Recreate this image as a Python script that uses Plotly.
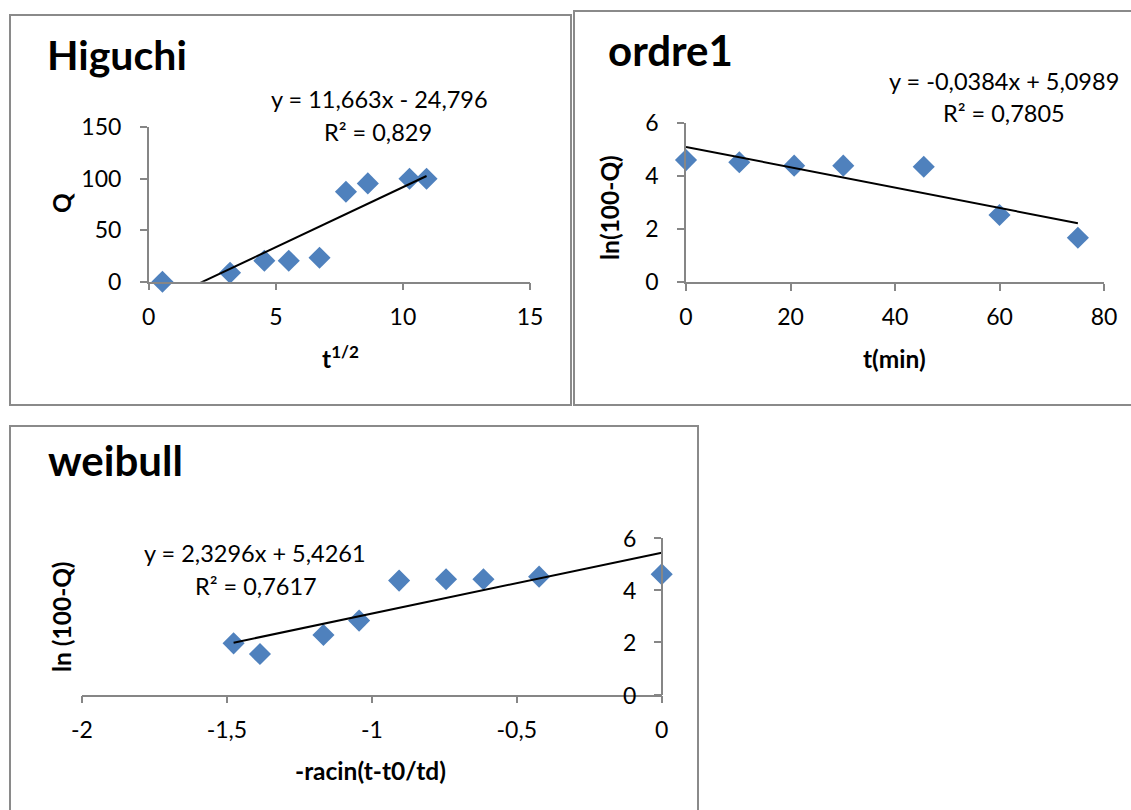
import plotly.graph_objects as go

W, H = 1131, 810
FONT = "Lato"
AXIS_GREY = "#868686"
FRAME_GREY = "#8a8a8a"
BLUE = "#4F81BD"
TICK_SIZE = 23

# ---- Higuchi: Q versus square root of time ----
higuchi_sqrt_t = [0.54, 3.20, 4.55, 5.51, 6.72, 7.76, 8.62, 10.26, 10.93]
higuchi_q = [0, 8.7, 20.4, 20.4, 23.3, 87.4, 95.5, 100, 100]
higuchi_slope, higuchi_intercept, higuchi_r2 = 11.663, -24.796, 0.829
higuchi_xticks = [0, 5, 10, 15]
higuchi_yticks = [0, 50, 100, 150]

# ---- first order: ln(100-Q) versus time ----
ordre1_t = [0, 10.2, 20.7, 30.1, 45.5, 60.0, 75.0]
ordre1_ln = [4.60, 4.52, 4.39, 4.39, 4.35, 2.53, 1.67]
ordre1_slope, ordre1_intercept, ordre1_r2 = -0.0384, 5.0989, 0.7805
ordre1_xticks = [0, 20, 40, 60, 80]
ordre1_yticks = [0, 2, 4, 6]

# ---- Weibull ----
weibull_x = [-1.477, -1.386, -1.167, -1.044, -0.906, -0.744, -0.615, -0.423, 0.0]
weibull_ln = [1.96, 1.55, 2.28, 2.83, 4.36, 4.41, 4.41, 4.51, 4.60]
weibull_slope, weibull_intercept, weibull_r2 = 2.3296, 5.4261, 0.7617
weibull_xticks = [-2, -1.5, -1, -0.5, 0]
weibull_yticks = [0, 2, 4, 6]


def num(v):
    """Number written with a decimal comma and a plain hyphen."""
    s = f"{v:g}" if float(v) != int(v) else str(int(v))
    return s.replace(".", ",")


def equation(slope, intercept):
    sign = "+" if intercept >= 0 else "-"
    return f"y = {num(slope)}x {sign} {num(abs(intercept))}"


def px(x, y):
    """Pixel position -> paper coordinates."""
    return x / W, 1 - y / H


def xdom(x0, x1):
    return [x0 / W, x1 / W]


def ydom(ybottom, ytop):
    return [1 - ybottom / H, 1 - ytop / H]


def axis(ticks, rng, standoff, **kw):
    base = dict(
        range=rng, tickmode="array", tickvals=ticks, ticktext=[num(t) for t in ticks],
        showline=True, linecolor=AXIS_GREY, linewidth=1.5,
        ticks="outside", ticklen=7, tickwidth=1.5, tickcolor=AXIS_GREY,
        showgrid=False, zeroline=False, ticklabelstandoff=standoff, automargin=False,
        tickfont=dict(family=FONT, size=TICK_SIZE, color="black"),
    )
    base.update(kw)
    return base


fig = go.Figure()

marker = dict(symbol="diamond", size=17, color=BLUE, line=dict(width=0))
trend = dict(color="black", width=2)

panels = [
    ("x", "y", higuchi_sqrt_t, higuchi_q, higuchi_slope, higuchi_intercept),
    ("x2", "y2", ordre1_t, ordre1_ln, ordre1_slope, ordre1_intercept),
    ("x3", "y3", weibull_x, weibull_ln, weibull_slope, weibull_intercept),
]
for xa, ya, xs, ys, a, b in panels:
    fig.add_trace(go.Scatter(x=xs, y=ys, mode="markers", marker=marker,
                             xaxis=xa, yaxis=ya, cliponaxis=False, showlegend=False))
    x_fit = [min(xs), max(xs)]
    fig.add_trace(go.Scatter(x=x_fit, y=[a * v + b for v in x_fit], mode="lines",
                             line=trend, xaxis=xa, yaxis=ya, cliponaxis=True,
                             showlegend=False))

# panel frames
frames = [(10, 15, 571, 405), (574, 11, 1140, 405), (10, 426, 698, 820)]
shapes = []
for x0, y0, x1, y1 in frames:
    a0, b0 = px(x0, y1)
    a1, b1 = px(x1, y0)
    shapes.append(dict(type="rect", xref="paper", yref="paper", x0=a0, y0=b0, x1=a1, y1=b1,
                       line=dict(color=FRAME_GREY, width=2), fillcolor="rgba(0,0,0,0)",
                       layer="below"))

annotations = []


def text(x, y, s, size, bold=False, angle=0, xanchor="center"):
    ax, ay = px(x, y)
    annotations.append(dict(
        x=ax, y=ay, xref="paper", yref="paper", text=f"<b>{s}</b>" if bold else s,
        showarrow=False, textangle=angle, xanchor=xanchor, yanchor="middle",
        font=dict(family=FONT, size=size, color="black"),
    ))


# chart titles
text(45, 55, "Higuchi", 41, bold=True, xanchor="left")
text(606, 50, "ordre1", 42, bold=True, xanchor="left")
text(46, 460, "weibull", 42, bold=True, xanchor="left")

# trendline labels
EQ_SIZE = 23.5
text(379, 99, equation(higuchi_slope, higuchi_intercept), EQ_SIZE)
text(378, 132, f"R² = {num(higuchi_r2)}", EQ_SIZE)
text(1004, 81, equation(ordre1_slope, ordre1_intercept), EQ_SIZE)
text(1004, 113, f"R² = {num(ordre1_r2)}", EQ_SIZE)
text(255, 553, equation(weibull_slope, weibull_intercept), EQ_SIZE)
text(256, 586, f"R² = {num(weibull_r2)}", EQ_SIZE)

# axis titles
TITLE_SIZE = 24.5
text(61, 203, "Q", TITLE_SIZE, bold=True, angle=-90)
text(340, 357, "t<sup>1/2</sup>", TITLE_SIZE, bold=True)
text(609, 208, "ln(100-Q)", TITLE_SIZE, bold=True, angle=-90)
text(894, 358, "t(min)", TITLE_SIZE, bold=True)
text(61, 617, "ln (100-Q)", TITLE_SIZE, bold=True, angle=-90)
text(370, 770, "-racin(t-t0/td)", TITLE_SIZE, bold=True)

# weibull value axis sits at x = 0 with its labels on the left of the line
for v in weibull_yticks:
    annotations.append(dict(
        x=0, y=v, xref="x3", yref="y3", text=num(v), showarrow=False,
        xanchor="right", yanchor="middle", xshift=-24,
        font=dict(family=FONT, size=TICK_SIZE, color="black"),
    ))

fig.update_layout(
    template="none",
    width=W, height=H,
    margin=dict(l=0, r=0, t=0, b=0, pad=0, autoexpand=False),
    paper_bgcolor="white", plot_bgcolor="white",
    shapes=shapes, annotations=annotations,
    xaxis=axis(higuchi_xticks, [0, 15], 7, domain=xdom(148.7, 530), anchor="y"),
    yaxis=axis(higuchi_yticks, [0, 150], 14, domain=ydom(281.7, 127.3), anchor="x"),
    xaxis2=axis(ordre1_xticks, [0, 80], 7, domain=xdom(686, 1104), anchor="y2"),
    yaxis2=axis(ordre1_yticks, [0, 6], 14, domain=ydom(282, 123), anchor="x2"),
    xaxis3=axis(weibull_xticks, [-2, 0], 7, domain=xdom(82, 661.7), anchor="y3"),
    yaxis3=axis(weibull_yticks, [0, 6], 14, domain=ydom(694.6, 537.7), anchor="free",
                position=661.7 / W, side="left", showticklabels=False),
)

fig.write_html(
    "out.html",
    post_script="document.body.style.margin='0';document.body.style.overflow='hidden';",
)
